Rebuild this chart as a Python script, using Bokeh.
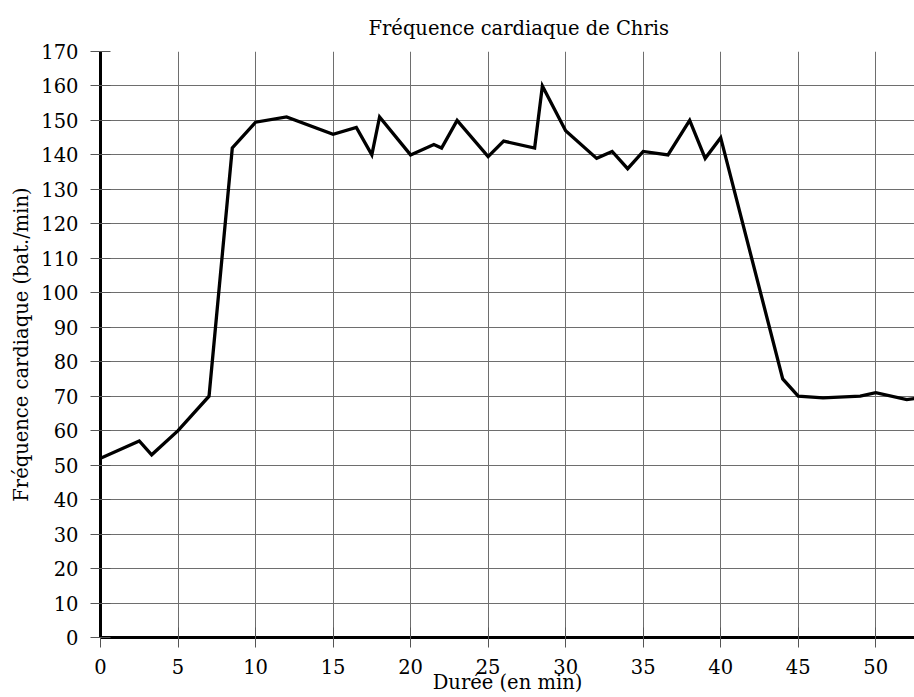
from bokeh.plotting import figure
from bokeh.models import Range1d, FixedTicker
from bokeh.embed import file_html
from bokeh.resources import INLINE

# Data
duree_min = [0, 2.5, 3.3, 5, 7, 8.5, 10, 12, 15, 16.5, 17.5, 18, 20, 21.5, 22, 23,
             25, 26, 28, 28.5, 30, 32, 33, 34, 35, 36.6, 38, 39, 40, 44, 45, 46.6,
             49, 50, 52, 52.5]
frequence = [52, 57, 53, 60, 70, 142, 149.5, 151, 146, 148, 140, 151, 140, 143, 142, 150,
             139.5, 144, 142, 160, 147, 139, 141, 136, 141, 140, 150, 139, 145, 75, 70, 69.5,
             70, 71, 69, 69.3]
x_ticks = [0, 5, 10, 15, 20, 25, 30, 35, 40, 45, 50]
y_ticks = list(range(0, 171, 10))

FONT = "DejaVu Serif"
FS = "19.5px"

p = figure(width=914, height=697, output_backend="svg", toolbar_location=None,
           x_range=Range1d(0, 52.5), y_range=Range1d(0, 170),
           min_border_left=100, min_border_right=0, min_border_top=51, min_border_bottom=60)

p.title.text = "Fréquence cardiaque de Chris"
p.title.align = "left"
p.title.offset = 268
p.title.text_font = FONT
p.title.text_font_size = FS
p.title.text_font_style = "normal"
p.title.text_color = "black"
p.title.standoff = 24

p.outline_line_color = None
p.background_fill_color = "white"
p.border_fill_color = "white"

for ax, ticks in ((p.xaxis[0], x_ticks), (p.yaxis[0], y_ticks)):
    ax.ticker = FixedTicker(ticks=ticks)
    ax.axis_line_width = 3
    ax.axis_line_color = "black"
    ax.major_tick_in = 10
    ax.major_tick_out = 10
    ax.major_tick_line_color = "#555555"
    ax.major_tick_line_width = 1
    ax.minor_tick_line_color = None
    ax.major_label_text_font = FONT
    ax.major_label_text_font_size = FS
    ax.major_label_text_color = "black"
    ax.major_label_standoff = 12
    ax.axis_label_text_font = FONT
    ax.axis_label_text_font_size = FS
    ax.axis_label_text_font_style = "normal"
    ax.axis_label_text_color = "black"

p.xaxis.axis_label = "Durée (en min)"
p.xaxis.major_label_standoff = 11
p.xaxis.axis_label_standoff = -6
p.yaxis.axis_label = "Fréquence cardiaque (bat./min)"
p.yaxis.axis_label_standoff = 5

p.xgrid.ticker = FixedTicker(ticks=x_ticks)
p.ygrid.ticker = FixedTicker(ticks=y_ticks)
for g in (p.xgrid[0], p.ygrid[0]):
    g.grid_line_color = "#6e6e6e"
    g.grid_line_width = 1

p.line(duree_min, frequence, line_color="black", line_width=3.3, line_join="miter")

open("out.html", "w").write(file_html(p, INLINE))
